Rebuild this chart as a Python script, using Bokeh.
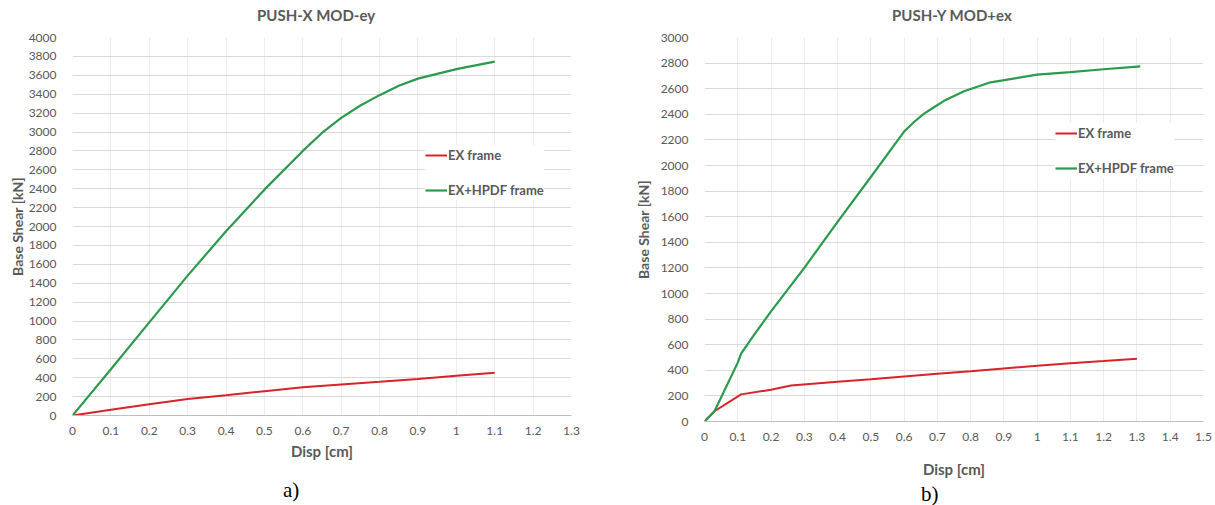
from bokeh.plotting import figure
from bokeh.layouts import row, column
from bokeh.models import Legend, LegendItem, FixedTicker, Range1d, Div
from bokeh.embed import file_html
from bokeh.resources import INLINE

# ---- data: chart a) PUSH-X MOD-ey ----
disp_a_ex = [0, 0.1, 0.2, 0.3, 0.4, 0.5, 0.6, 0.7, 0.8, 0.9, 1.0, 1.1]
shear_a_ex = [0, 60, 120, 175, 215, 257, 298, 327, 356, 386, 420, 452]
disp_a_hp = [0, 0.1, 0.2, 0.3, 0.4, 0.5, 0.6, 0.65, 0.7, 0.75, 0.8, 0.85, 0.9, 0.95, 1.0, 1.05, 1.1]
shear_a_hp = [0, 490, 985, 1480, 1950, 2390, 2800, 2990, 3150, 3280, 3390, 3490, 3565, 3615, 3665, 3705, 3745]

# ---- data: chart b) PUSH-Y MOD+ex ----
disp_b_ex = [0, 0.03, 0.11, 0.2, 0.26, 0.4, 0.5, 0.6, 0.7, 0.8, 0.9, 1.0, 1.1, 1.2, 1.3]
shear_b_ex = [0, 80, 212, 248, 282, 310, 330, 352, 373, 393, 415, 435, 455, 472, 490]
disp_b_hp = [0, 0.03, 0.1, 0.11, 0.15, 0.2, 0.3, 0.4, 0.5, 0.6, 0.63, 0.66, 0.69, 0.72, 0.78, 0.86, 1.0, 1.1, 1.2, 1.31]
shear_b_hp = [0, 80, 460, 530, 680, 860, 1200, 1560, 1910, 2265, 2340, 2405, 2455, 2505, 2580, 2650, 2710, 2730, 2752, 2775]

xticks_a = [0, 0.1, 0.2, 0.3, 0.4, 0.5, 0.6, 0.7, 0.8, 0.9, 1.0, 1.1, 1.2, 1.3]
xlabels_a = ["0", "0.1", "0.2", "0.3", "0.4", "0.5", "0.6", "0.7", "0.8", "0.9", "1", "1.1", "1.2", "1.3"]
xticks_b = [0, 0.1, 0.2, 0.3, 0.4, 0.5, 0.6, 0.7, 0.8, 0.9, 1.0, 1.1, 1.2, 1.3, 1.4, 1.5]
xlabels_b = ["0", "0.1", "0.2", "0.3", "0.4", "0.5", "0.6", "0.7", "0.8", "0.9", "1", "1.1", "1.2", "1.3", "1.4", "1.5"]
yticks_a = list(range(0, 4001, 200))
yticks_b = list(range(0, 3001, 200))

series_names = ["EX frame", "EX+HPDF frame"]
titles = ["PUSH-X MOD-ey", "PUSH-Y MOD+ex"]
captions = ["a)", "b)"]

RED = "#d8232a"
GREEN = "#2a9a4c"
GRAY = "#595959"
FONT = "Lato"


def make_chart(xs_ex, ys_ex, xs_hp, ys_hp, xticks, xlabels, yticks,
               xmax, ymax, width, height, bl, br, leg_loc, ylab_standoff,
               tick_standoff, xlab_standoff):
    p = figure(width=width, height=height, output_backend="svg", toolbar_location=None,
               x_range=Range1d(0, xmax), y_range=Range1d(0, ymax),
               min_border_left=bl, min_border_right=br, min_border_top=12,
               min_border_bottom=20)
    p.outline_line_color = None
    p.background_fill_color = "white"
    p.border_fill_color = "white"

    r1 = p.line(xs_ex, ys_ex, line_color=RED, line_width=2)
    r2 = p.line(xs_hp, ys_hp, line_color=GREEN, line_width=2.2)

    p.xaxis.ticker = FixedTicker(ticks=xticks)
    p.xaxis.major_label_overrides = {t_: l_ for t_, l_ in zip(xticks, xlabels)}
    p.yaxis.ticker = FixedTicker(ticks=yticks)
    for ax in (p.xaxis, p.yaxis):
        ax.major_tick_line_color = None
        ax.minor_tick_line_color = None
        ax.major_label_text_font = FONT
        ax.major_label_text_font_size = "12px"
        ax.major_label_text_color = GRAY
        ax.axis_label_text_font = FONT
        ax.axis_label_text_font_style = "bold"
        ax.axis_label_text_color = GRAY
        ax.axis_label_text_font_size = "15px"
    p.yaxis.axis_label_text_font_size = "14px"
    p.yaxis.axis_line_color = None
    p.xaxis.axis_line_color = "#bfbfbf"
    p.yaxis.axis_label = "Base Shear [kN]"
    p.xaxis.axis_label = "Disp [cm]"
    p.yaxis.major_label_standoff = 10
    p.xaxis.major_label_standoff = tick_standoff
    p.yaxis.axis_label_standoff = ylab_standoff
    p.xaxis.axis_label_standoff = xlab_standoff

    p.xgrid.ticker = FixedTicker(ticks=xticks)
    p.ygrid.ticker = FixedTicker(ticks=yticks)
    p.xgrid.grid_line_color = "#ececec"
    p.ygrid.grid_line_color = "#d9d9d9"

    leg = Legend(items=[LegendItem(label=series_names[0], renderers=[r1]),
                        LegendItem(label=series_names[1], renderers=[r2])],
                 location=leg_loc, orientation="vertical",
                 background_fill_color="white", background_fill_alpha=1.0,
                 border_line_color=None, padding=10, spacing=15,
                 glyph_width=22, glyph_height=20, label_height=20,
                 label_standoff=1, label_text_font=FONT, label_text_font_size="13px",
                 label_text_font_style="bold", label_text_color=GRAY, margin=0)
    p.add_layout(leg, "center")
    return p


def make_text_div(text, width, height, left, top, font, size, weight, color, lh):
    html = ('<div style="position:absolute; left:%dpx; top:%dpx; white-space:nowrap; '
            'font-family:\'%s\'; font-size:%dpx; font-weight:%s; line-height:%dpx; '
            'color:%s;">%s</div>' % (left, top, font, size, weight, lh, color, text))
    return Div(text=html, width=width, height=height, margin=0)


title_a = make_text_div(titles[0], 600, 25, 257, 6, FONT, 15, "bold", GRAY, 18)
title_b = make_text_div(titles[1], 615, 25, 292, 6, FONT, 15, "bold", GRAY, 18)

pa = make_chart(disp_a_ex, shear_a_ex, disp_a_hp, shear_a_hp,
                xticks_a, xlabels_a, yticks_a, 1.3, 4000, 600, 437, 72, 29,
                (353, 215), 0, 5, 4)
pb = make_chart(disp_b_ex, shear_b_ex, disp_b_hp, shear_b_hp,
                xticks_b, xlabels_b, yticks_b, 1.5, 3000, 615, 455, 104, 12,
                (351, 243), 6, 5, 16)

cap_a = make_text_div(captions[0], 600, 43, 283, 16, "Liberation Serif", 21, "normal", "black", 24)
cap_b = make_text_div(captions[1], 615, 25, 321, 2, "Liberation Serif", 21, "normal", "black", 24)

layout = row(column(title_a, pa, cap_a, spacing=0),
             column(title_b, pb, cap_b, spacing=0), spacing=0)
open("out.html", "w").write(file_html(layout, INLINE))
